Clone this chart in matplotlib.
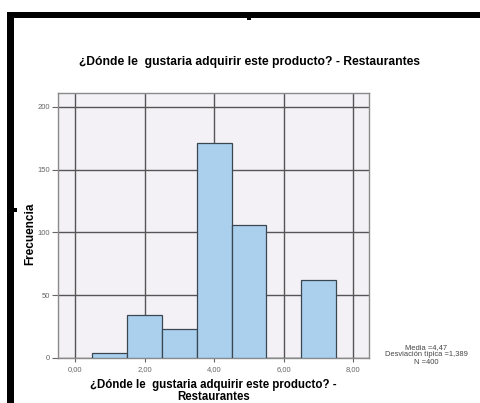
import matplotlib
matplotlib.use("Agg")
import matplotlib.pyplot as plt
from matplotlib.patches import Rectangle

categories = [1, 2, 3, 4, 5, 6, 7]
counts = [4, 34, 23, 171, 106, 0, 62]
xticks = [0, 2, 4, 6, 8]
xtick_labels = ["0,00", "2,00", "4,00", "6,00", "8,00"]
yticks = [0, 50, 100, 150, 200]
ytick_labels = ["0", "50", "100", "150", "200"]
title = "¿Dónde le  gustaria adquirir este producto? - Restaurantes"
xlabel = "¿Dónde le  gustaria adquirir este producto? -\nRestaurantes"
ylabel = "Frecuencia"
stats = "Media =4,47\nDesviación típica =1,389\nN =400"

plt.rcParams['font.family'] = ['Liberation Sans', 'DejaVu Sans']

W, H = 481, 403
fig = plt.figure(figsize=(W / 100, H / 100), dpi=100)
fig.patch.set_facecolor("white")

# frame (black border bars)
fig.patches.append(Rectangle((7 / W, 0), 7 / W, (H - 12) / H, transform=fig.transFigure,
                             facecolor="black", edgecolor="none"))
fig.patches.append(Rectangle((7 / W, (H - 18) / H), (W - 7) / W, 6 / H, transform=fig.transFigure,
                             facecolor="black", edgecolor="none"))
fig.patches.append(Rectangle((247 / W, (H - 20) / H), 4 / W, 3 / H, transform=fig.transFigure,
                             facecolor="black", edgecolor="none"))
fig.patches.append(Rectangle((14 / W, (H - 212) / H), 3 / W, 4 / H, transform=fig.transFigure,
                             facecolor="black", edgecolor="none"))

left, right, top, bottom = 58, 369, 93, 358
ax = fig.add_axes([left / W, (H - bottom) / H, (right - left) / W, (bottom - top) / H])
ax.set_facecolor("#F4F1F6")
ax.bar(categories, counts, width=1.0, color="#AAD0EE", edgecolor="#3A4650", linewidth=0.9, zorder=3)
ax.set_xlim(-0.49, 8.45)
ax.set_ylim(0, 211)
ax.set_xticks(xticks)
ax.set_xticklabels(xtick_labels)
ax.set_yticks(yticks)
ax.set_yticklabels(ytick_labels)
ax.grid(True, color="#555555", linewidth=1.0, zorder=1)
ax.set_axisbelow(True)
for s in ax.spines.values():
    s.set_color("#8A8A8A")
    s.set_linewidth(1.0)
ax.tick_params(axis="both", labelsize=5.5, colors="#666666", length=4, width=0.8, pad=2)
ax.tick_params(axis="x", length=3, pad=3)

ax.set_ylabel(ylabel, fontsize=8.5, fontweight="bold")
ax.yaxis.set_label_coords((36 - left) / (right - left), 0.47)
ax.set_xlabel(xlabel, fontsize=8.3, fontweight="bold", labelpad=4, linespacing=1.05)

fig.text(250 / W, 1 - 62 / H, title, ha="center", va="center", fontsize=8.7, fontweight="bold")
fig.text(426 / W, 1 - 355 / H, stats, ha="center", va="center", fontsize=5.4, color="#444444",
         linespacing=1.0)

fig.savefig("out.png", dpi=100)
